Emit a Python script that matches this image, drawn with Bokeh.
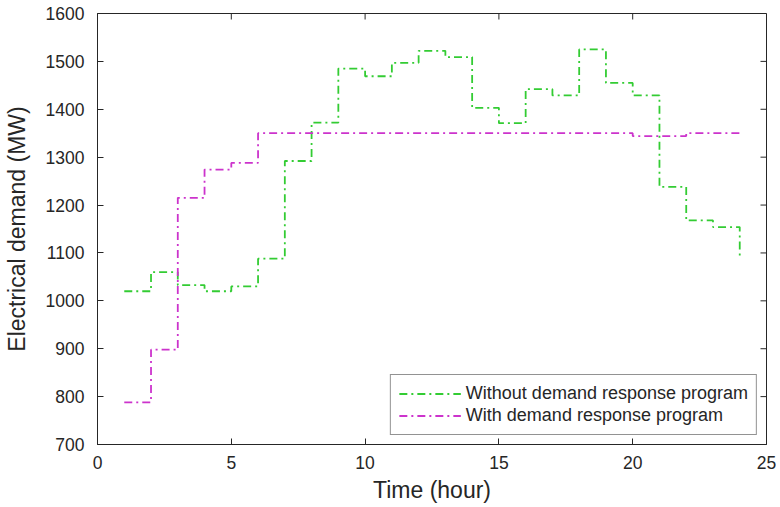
import math
from bokeh.plotting import figure
from bokeh.models import FixedTicker, Range1d, Legend, LegendItem
from bokeh.embed import file_html
from bokeh.resources import INLINE

hours = list(range(1, 25))
without_dr = [1020, 1060, 1033, 1020, 1030, 1088, 1292, 1372, 1485, 1469, 1497, 1522,
              1509, 1403, 1371, 1442, 1429, 1525, 1455, 1429, 1238, 1168, 1154, 1088]
with_dr = [788, 898, 1215, 1274, 1288, 1350, 1350, 1350, 1350, 1350, 1350, 1350,
           1350, 1350, 1350, 1350, 1350, 1350, 1350, 1344, 1344, 1350, 1350, 1350]
x_ticks = [0, 5, 10, 15, 20, 25]
y_ticks = [700, 800, 900, 1000, 1100, 1200, 1300, 1400, 1500, 1600]
series_names = ["Without demand response program", "With demand response program"]

FONT = "Liberation Sans"
DARK = "#262626"
X_MIN, X_MAX, Y_MIN, Y_MAX = 0, 25, 700, 1600

p = figure(width=776, height=505, output_backend="svg", toolbar_location=None,
           x_range=Range1d(X_MIN, X_MAX), y_range=Range1d(Y_MIN, Y_MAX),
           min_border_left=97, min_border_right=10, min_border_top=13, min_border_bottom=61,
           x_axis_label="Time (hour)", y_axis_label="Electrical demand (MW)")
p.grid.visible = False
p.outline_line_color = DARK
p.outline_line_width = 1

for ax, ticks in ((p.xaxis[0], x_ticks), (p.yaxis[0], y_ticks)):
    ax.ticker = FixedTicker(ticks=ticks)
    ax.major_tick_in = 6
    ax.major_tick_out = 0
    ax.minor_tick_line_color = None
    ax.axis_line_color = DARK
    ax.major_tick_line_color = DARK
    ax.major_label_text_font = FONT
    ax.major_label_text_font_size = "17.5px"
    ax.major_label_text_color = DARK
    ax.axis_label_text_font = FONT
    ax.axis_label_text_font_size = "23px"
    ax.axis_label_text_font_style = "normal"
    ax.axis_label_text_color = DARK

p.xaxis[0].major_label_standoff = 11
p.xaxis[0].axis_label_standoff = 5
p.yaxis[0].major_label_standoff = 13
p.yaxis[0].axis_label_standoff = 13

# inward tick marks on the top and right edges of the box
p.ray(x=x_ticks, y=[Y_MAX] * len(x_ticks), length=6, length_units="screen",
      angle=-math.pi / 2, line_color=DARK, line_width=1)
p.ray(x=[X_MAX] * len(y_ticks), y=y_ticks, length=6, length_units="screen",
      angle=math.pi, line_color=DARK, line_width=1)

r1 = p.step(hours, without_dr, mode="after", line_color="#33cc33", line_width=1.8,
            line_dash="8 4 2 4")
r2 = p.step(hours, with_dr, mode="after", line_color="#cc33cc", line_width=1.8,
            line_dash="8 4 2 4")

legend = Legend(items=[LegendItem(label=series_names[0], renderers=[r1]),
                       LegendItem(label=series_names[1], renderers=[r2])],
                location="bottom_right")
legend.margin = 9
legend.padding = 8
legend.spacing = 1
legend.label_height = 19
legend.glyph_width = 62
legend.glyph_height = 19
legend.label_standoff = 5
legend.border_line_color = DARK
legend.border_line_width = 1
legend.label_text_font = FONT
legend.label_text_font_size = "18px"
legend.label_text_color = DARK
p.add_layout(legend)

open("out.html", "w").write(file_html(p, INLINE))
